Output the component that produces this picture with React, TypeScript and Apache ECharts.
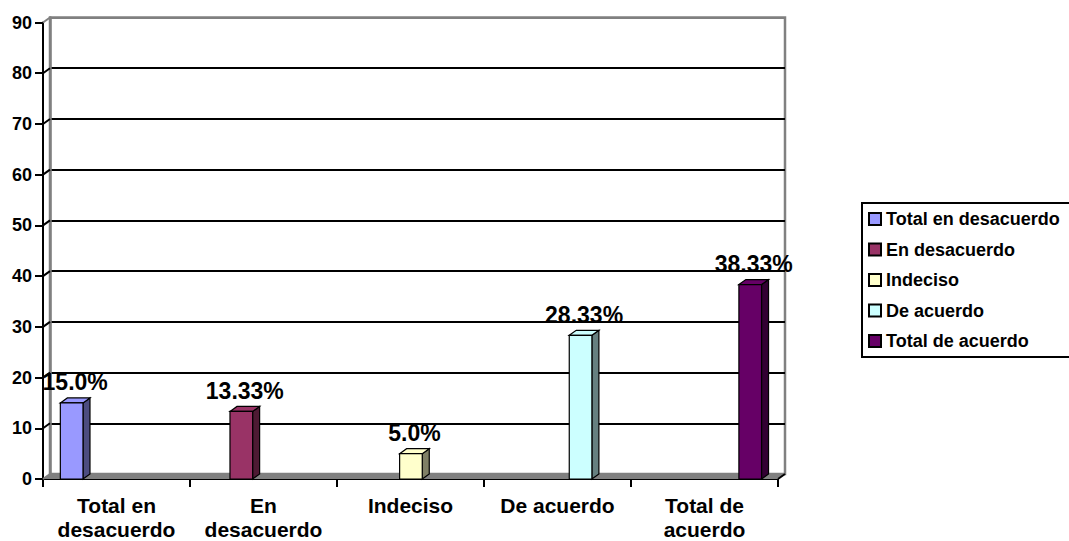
import React, { useEffect, useRef } from "react";
import * as echarts from "echarts";

const categories = ["Total en\ndesacuerdo", "En\ndesacuerdo", "Indeciso", "De acuerdo", "Total de\nacuerdo"];
const seriesNames = ["Total en desacuerdo", "En desacuerdo", "Indeciso", "De acuerdo", "Total de acuerdo"];
const values = [15.0, 13.33, 5.0, 28.33, 38.33];
const valueLabels = ["15.0%", "13.33%", "5.0%", "28.33%", "38.33%"];
const yTicks = [0, 10, 20, 30, 40, 50, 60, 70, 80, 90];
const frontColors = ["#9999FF", "#993366", "#FFFFCC", "#CCFFFF", "#660066"];
const sideColors = ["#4D4D80", "#4D1A33", "#808066", "#668080", "#330033"];

const DX = 7;
const DY = 5;
const GAP_FRAC = 0.118;
const BAR_FRAC = 0.154;
const FONT = "Arial, 'Liberation Sans', sans-serif";

export default function App() {
  const ref = useRef<HTMLDivElement>(null);
  useEffect(() => {
    if (!ref.current) return;
    const chart = echarts.init(ref.current, null, { renderer: "svg" });

    const barSeries = seriesNames.map((name, i) => ({
      type: "custom",
      name,
      xAxisIndex: 0,
      yAxisIndex: 0,
      z: 5,
      clip: false,
      itemStyle: { color: frontColors[i], borderColor: "#000", borderWidth: 1 },
      data: [[i, values[i]]],
      encode: { x: 0, y: 1 },
      renderItem: (params: any, api: any) => {
        const catW = api.size([1, 0])[0];
        const base = api.coord([api.value(0), 0]);
        const top = api.coord([api.value(0), api.value(1)]);
        const x0 = base[0] - catW / 2 + catW * GAP_FRAC + i * catW * BAR_FRAC;
        const bw = catW * BAR_FRAC;
        const yb = base[1];
        const yt = top[1];
        const stroke = { stroke: "#000", lineWidth: 1.2 };
        return {
          type: "group",
          children: [
            {
              type: "polygon",
              shape: { points: [[x0 + bw, yb], [x0 + bw + DX, yb - DY], [x0 + bw + DX, yt - DY], [x0 + bw, yt]] },
              style: { fill: sideColors[i], ...stroke },
            },
            {
              type: "polygon",
              shape: { points: [[x0, yt], [x0 + DX, yt - DY], [x0 + bw + DX, yt - DY], [x0 + bw, yt]] },
              style: { fill: frontColors[i], ...stroke },
            },
            {
              type: "rect",
              shape: { x: x0, y: yt, width: bw, height: yb - yt },
              style: { fill: frontColors[i], ...stroke },
            },
            {
              type: "text",
              x: x0 + bw / 2 + DX / 2,
              y: yt - 9,
              style: {
                text: valueLabels[i],
                fill: "#000",
                font: `bold 23px ${FONT}`,
                textAlign: "center",
                textVerticalAlign: "bottom",
              },
            },
          ],
        };
      },
    }));

    const option: any = {
      animation: false,
      backgroundColor: "#fff",
      grid: [
        { left: 43, right: 291, top: 22.5, bottom: 62, containLabel: false },
        {
          left: 43 + DX,
          right: 291 - DX,
          top: 22.5 - DY,
          bottom: 62 + DY,
          show: true,
          borderColor: "#808080",
          borderWidth: 2.5,
          backgroundColor: "transparent",
        },
      ],
      legend: {
        orient: "vertical",
        left: 862,
        top: 203,
        padding: [6, 12, 6, 6],
        borderColor: "#000",
        borderWidth: 2,
        itemWidth: 12,
        itemHeight: 12,
        itemGap: 10.5,
        icon: "rect",
        data: seriesNames,
        textStyle: { fontFamily: FONT, fontWeight: "bold", fontSize: 18, color: "#000", lineHeight: 20 },
      },
      xAxis: [
        {
          gridIndex: 0,
          type: "category",
          data: categories,
          boundaryGap: true,
          axisLine: { lineStyle: { color: "#000", width: 2 } },
          axisTick: { show: true, interval: 0, length: 8, lineStyle: { color: "#000", width: 2 } },
          axisLabel: {
            interval: 0,
            margin: 14,
            color: "#000",
            fontFamily: FONT,
            fontWeight: "bold",
            fontSize: 21,
            lineHeight: 24,
          },
          splitLine: { show: false },
        },
        { gridIndex: 1, type: "value", min: 0, max: 1, show: false },
      ],
      yAxis: [
        {
          gridIndex: 0,
          type: "value",
          min: 0,
          max: 90,
          interval: 10,
          axisLine: { show: true, lineStyle: { color: "#000", width: 2 } },
          axisTick: { show: true, length: 8, lineStyle: { color: "#000", width: 2 } },
          axisLabel: { margin: 11, color: "#000", fontFamily: FONT, fontWeight: "bold", fontSize: 18 },
          splitLine: { show: false },
        },
        {
          gridIndex: 1,
          type: "value",
          min: 0,
          max: 90,
          interval: 10,
          axisLine: { show: true, lineStyle: { color: "#808080", width: 2.5 } },
          axisTick: { show: false },
          axisLabel: { show: false },
          splitLine: {
            show: true,
            lineStyle: {
              width: 2,
              color: ["#808080", "#000", "#000", "#000", "#000", "#000", "#000", "#000", "#000", "#808080"],
            },
          },
        },
      ],
      series: [
        {
          type: "custom",
          name: "_floor",
          xAxisIndex: 0,
          yAxisIndex: 0,
          z: 3,
          clip: false,
          silent: true,
          data: [[0, 0]],
          renderItem: (params: any, api: any) => {
            const cs = params.coordSys;
            const y0 = api.coord([0, 0])[1];
            const xl = cs.x;
            const xr = cs.x + cs.width;
            return {
              type: "group",
              children: [
                {
                  type: "polygon",
                  shape: { points: [[xl, y0], [xr, y0], [xr + DX, y0 - DY], [xl + DX, y0 - DY]] },
                  style: { fill: "#808080" },
                },
                {
                  type: "line",
                  shape: { x1: xr, y1: y0, x2: xr + DX, y2: y0 - DY },
                  style: { stroke: "#000", lineWidth: 2 },
                },
              ],
            };
          },
        },
        {
          type: "custom",
          name: "_connectors",
          xAxisIndex: 0,
          yAxisIndex: 0,
          z: 4,
          clip: false,
          silent: true,
          data: yTicks.map((v) => [0, v]),
          renderItem: (params: any, api: any) => {
            const cs = params.coordSys;
            const y = api.coord([0, api.value(1)])[1];
            return {
              type: "line",
              shape: { x1: cs.x, y1: y, x2: cs.x + DX, y2: y - DY },
              style: { stroke: api.value(1) === 90 || api.value(1) === 0 ? "#808080" : "#000", lineWidth: 2 },
            };
          },
        },
        ...barSeries,
      ],
    };
    chart.setOption(option);
    return () => chart.dispose();
  }, []);

  return (
    <div
      ref={ref}
      style={{ position: "fixed", left: 0, top: 0, width: 1069, height: 541, background: "#fff" }}
    />
  );
}
